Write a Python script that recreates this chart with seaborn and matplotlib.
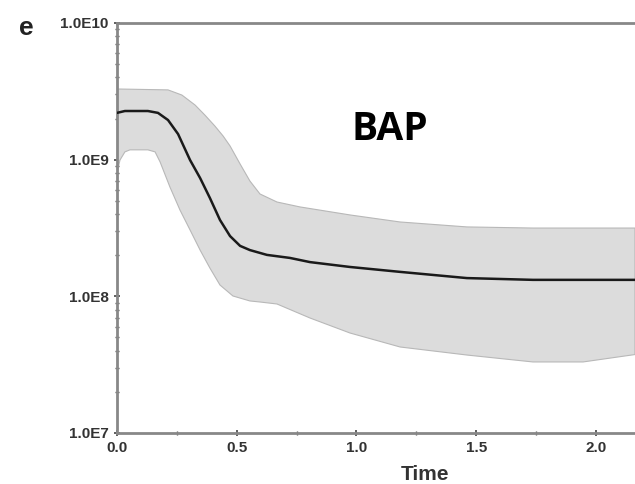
import matplotlib
matplotlib.use("Agg")
import matplotlib.pyplot as plt
import matplotlib.ticker as mticker
import numpy as np
import pandas as pd
import seaborn as sns

# median effective population size
median_time = [0.0, 0.033, 0.129, 0.171, 0.213, 0.255, 0.305, 0.347, 0.388, 0.430,
               0.472, 0.514, 0.555, 0.626, 0.722, 0.806, 0.973, 1.182, 1.461, 1.737, 2.163]
median = [2.20e9, 2.27e9, 2.27e9, 2.20e9, 1.95e9, 1.54e9, 9.94e8, 7.34e8, 5.24e8, 3.62e8,
          2.76e8, 2.34e8, 2.18e8, 2.01e8, 1.91e8, 1.78e8, 1.64e8, 1.51e8, 1.36e8, 1.32e8, 1.32e8]

# upper 95% HPD
upper_time = [0.0, 0.213, 0.271, 0.326, 0.367, 0.409, 0.443, 0.472, 0.514, 0.555,
              0.597, 0.668, 0.764, 0.973, 1.182, 1.461, 1.737, 2.163]
upper = [3.29e9, 3.24e9, 2.97e9, 2.51e9, 2.12e9, 1.76e9, 1.49e9, 1.26e9, 9.30e8, 6.98e8,
         5.61e8, 4.90e8, 4.51e8, 3.94e8, 3.50e8, 3.22e8, 3.16e8, 3.16e8]

# lower 95% HPD
lower_time = [0.0, 0.0125, 0.033, 0.054, 0.129, 0.159, 0.180, 0.221, 0.263, 0.305,
              0.347, 0.388, 0.430, 0.484, 0.555, 0.597, 0.668, 0.806, 0.973, 1.182,
              1.461, 1.737, 1.946, 2.163]
lower = [7.99e8, 9.94e8, 1.14e9, 1.18e9, 1.18e9, 1.14e9, 9.62e8, 6.31e8, 4.28e8, 3.06e8,
         2.18e8, 1.61e8, 1.21e8, 1.006e8, 9.25e7, 9.09e7, 8.79e7, 6.94e7, 5.39e7, 4.26e7,
         3.72e7, 3.31e7, 3.31e7, 3.75e7]

xticks = [0.0, 0.5, 1.0, 1.5, 2.0]
xtick_labels = ["0.0", "0.5", "1.0", "1.5", "2.0"]
yticks = [1e7, 1e8, 1e9, 1e10]
ytick_labels = ["1.0E7", "1.0E8", "1.0E9", "1.0E10"]

df_med = pd.DataFrame({"Time": median_time, "Ne": median})

sns.set_style("white")
plt.rcParams["font.family"] = ["Liberation Sans", "DejaVu Sans"]

fig = plt.figure(figsize=(6.35, 4.84), dpi=100)
ax = fig.add_axes([117 / 635, 1 - 433 / 484, 1 - 117 / 635, (433 - 23) / 484])

band_x = list(upper_time) + list(lower_time[::-1])
band_y = list(upper) + list(lower[::-1])
ax.fill(band_x, band_y, facecolor="#dcdcdc", edgecolor="#b8b8b8", linewidth=0.8, zorder=1)
sns.lineplot(data=df_med, x="Time", y="Ne", color="#1a1a1a", linewidth=1.8, ax=ax, zorder=3)

ax.set_yscale("log")
ax.set_xlim(0, 2.163)
ax.set_ylim(1e7, 1e10)

ax.set_xticks(xticks)
ax.set_xticklabels(xtick_labels)
ax.set_yticks(yticks)
ax.set_yticklabels(ytick_labels)
ax.xaxis.set_minor_locator(mticker.MultipleLocator(0.25))
ax.yaxis.set_minor_locator(mticker.LogLocator(base=10, subs=np.arange(2, 10)))
ax.yaxis.set_minor_formatter(mticker.NullFormatter())

for lab in ax.get_xticklabels() + ax.get_yticklabels():
    lab.set_fontweight("bold")
    lab.set_fontsize(11)
    lab.set_color("#333333")

ax.tick_params(axis="both", which="both", bottom=True, left=True, top=False, right=False)
ax.tick_params(axis="both", which="major", direction="inout", length=4, width=1.2,
               color="#444444")
ax.tick_params(axis="both", which="minor", direction="inout", length=3, width=1.0,
               color="#555555")
ax.tick_params(axis="y", which="major", pad=4)
ax.tick_params(axis="x", which="major", pad=4)

for side in ["left", "bottom", "top", "right"]:
    ax.spines[side].set_color("#888888")
    ax.spines[side].set_linewidth(2)
ax.spines["right"].set_visible(False)

ax.set_xlabel("Time", fontsize=15, fontweight="bold", color="#333333")
ax.xaxis.set_label_coords((425 - 117) / 518, (433 - 474) / 410)
ax.xaxis.label.set_va("center")
ax.set_ylabel("")

fig.text(26 / 635, 1 - 28 / 484, "e", fontsize=19, fontweight="bold", color="#222222",
         ha="center", va="center")
fig.text(390 / 635, 1 - 129 / 484, "BAP", fontsize=28, fontweight="bold", color="black",
         ha="center", va="center", family=["Open Sans", "DejaVu Sans"])

fig.savefig("out.png", dpi=100)
